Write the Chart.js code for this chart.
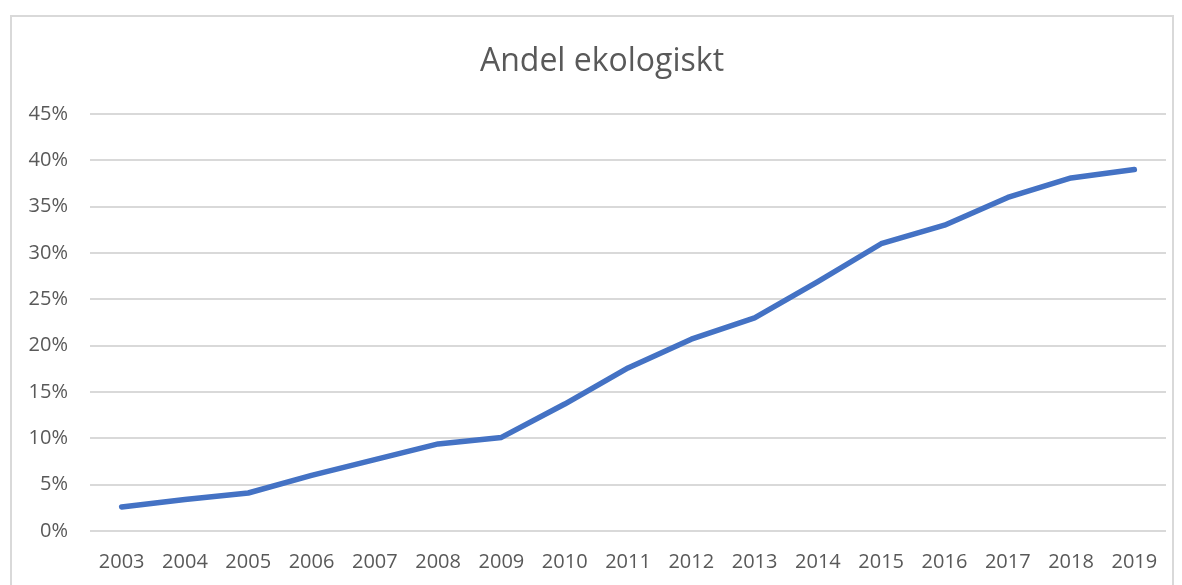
<!DOCTYPE html>
<html>
<head>
<meta charset="utf-8">
<script src="https://cdn.jsdelivr.net/npm/chart.js@4/dist/chart.umd.min.js"></script>
<style>
html,body{margin:0;padding:0;background:#fff;overflow:hidden;}
#wrap{position:absolute;left:0;top:0;width:1182px;height:585px;}
#frame{position:absolute;left:10px;top:15px;width:1164px;height:600px;border:2px solid #d9d9d9;box-sizing:border-box;}
canvas{position:absolute;left:0;top:0;}
</style>
</head>
<body>
<div id="wrap">
<div id="frame"></div>
<canvas id="c" width="1182" height="585"></canvas>
</div>
<script>
const categories = ['2003','2004','2005','2006','2007','2008','2009','2010','2011','2012','2013','2014','2015','2016','2017','2018','2019'];
const andelEkologiskt = [2.6, 3.4, 4.1, 6.0, 7.7, 9.4, 10.1, 13.7, 17.6, 20.7, 23.0, 26.9, 31.0, 33.0, 36.0, 38.1, 39.0];
const yTicks = [0,5,10,15,20,25,30,35,40,45];
const chartTitle = 'Andel ekologiskt';

const FONT = "'Open Sans', 'Segoe UI', sans-serif";

const titlePlugin = {
  id: 'centeredTitle',
  afterDraw(chart) {
    const ctx = chart.ctx;
    ctx.save();
    ctx.font = "32px " + FONT;
    ctx.fillStyle = '#595959';
    ctx.textAlign = 'center';
    ctx.textBaseline = 'middle';
    ctx.fillText(chartTitle, 602, 62);
    ctx.restore();
  }
};

new Chart(document.getElementById('c'), {
  type: 'line',
  data: {
    labels: categories,
    datasets: [{
      label: chartTitle,
      data: andelEkologiskt,
      borderColor: '#4472C4',
      backgroundColor: '#4472C4',
      borderWidth: 5.5,
      pointRadius: 0,
      tension: 0,
      borderCapStyle: 'round',
      borderJoinStyle: 'round'
    }]
  },
  plugins: [titlePlugin],
  options: {
    responsive: false,
    animation: false,
    devicePixelRatio: 1,
    layout: { padding: { left: 0, right: 16, top: 114, bottom: 0 } },
    plugins: {
      legend: { display: false },
      tooltip: { enabled: false },
      title: { display: false }
    },
    scales: {
      x: {
        offset: true,
        grid: { display: false, drawTicks: false },
        border: { display: false },
        ticks: { color: '#595959', font: { family: FONT, size: 20 }, padding: 19, maxRotation: 0, autoSkip: false },
        afterFit: s => { s.height = 54; }
      },
      y: {
        min: 0, max: 45,
        afterBuildTicks: s => { s.ticks = yTicks.map(v => ({ value: v })); },
        grid: { color: '#d9d9d9', lineWidth: 2, drawTicks: false },
        border: { display: false },
        ticks: { color: '#595959', font: { family: FONT, size: 20 }, padding: 22, callback: v => v + '%' },
        afterFit: s => { s.width = 90; }
      }
    }
  }
});
</script>
</body>
</html>
